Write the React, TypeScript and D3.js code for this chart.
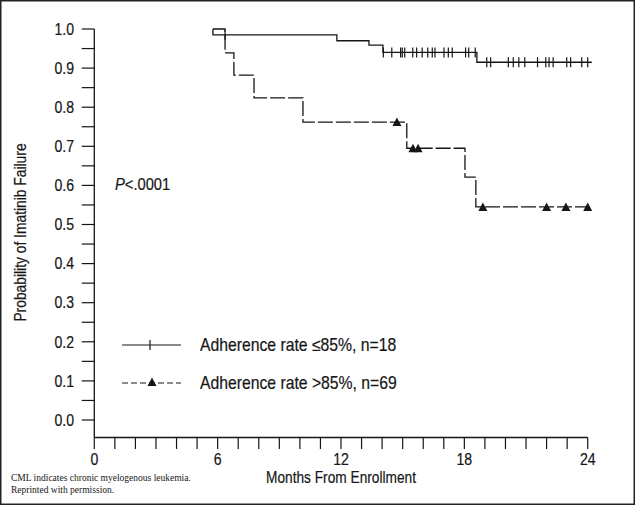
import * as d3 from 'd3';

// months on study / probability
const solidStart = 5.77;
const solidEnd = 24.2;
const solidEventMonths = [5.77, 11.8, 13.36, 14.04, 18.61];
const solidSurvival = [0.985, 0.97, 0.959, 0.94, 0.915];
const solidCensored = [
  6.36, 14.06, 14.47, 14.9, 14.98, 15.1, 15.49, 15.68, 15.95, 16.22, 16.44, 16.57, 17.01,
  17.22, 17.41, 18.06, 18.21, 18.53, 19.09, 19.28, 20.14, 20.38, 20.65, 20.94, 21.56,
  21.96, 22.12, 22.32, 22.98, 23.17, 23.71, 24.0,
];

const dashedStart = 5.77;
const dashedEnd = 24.1;
const dashedEventMonths = [6.36, 6.79, 7.77, 10.15, 15.2, 18.03, 18.56];
const dashedSurvival = [0.939, 0.882, 0.824, 0.762, 0.695, 0.621, 0.545];
const dashedCensored = [14.72, 15.5, 15.75, 18.9, 22.0, 22.94, 24.0];

const xTickLabels = [0, 6, 12, 18, 24];
const yTickLabels = [0, 0.1, 0.2, 0.3, 0.4, 0.5, 0.6, 0.7, 0.8, 0.9, 1.0];

const legendLabels = ['Adherence rate \u226485%, n=18', 'Adherence rate >85%, n=69'];

const W = 635;
const H = 505;
const ink = '#161616';
const sans = "'Liberation Sans', Arial, sans-serif";
const serif = "'Liberation Serif', 'DejaVu Serif', serif";

const x = d3.scaleLinear().domain([0, 24]).range([94.3, 587.7]);
const y = d3.scaleLinear().domain([0, 1]).range([420, 29]);
const axisY = 437.5;
const axisX = 94.3;

function levelAt(times: number[], values: number[], t: number) {
  let v = 1;
  times.forEach((tt, i) => {
    if (tt <= t) v = values[i];
  });
  return v;
}

function stepPoints(start: number, end: number, times: number[], values: number[]) {
  const pts: [number, number][] = [[start, 1]];
  times.forEach((t, i) => pts.push([t, values[i]]));
  pts.push([end, values[values.length - 1]]);
  return pts;
}

const step = d3
  .line<[number, number]>()
  .x((d) => x(d[0]))
  .y((d) => y(d[1]))
  .curve(d3.curveStepAfter);

function triangle(cx: number, cy: number) {
  return `M${cx - 4.5},${cy + 4} L${cx},${cy - 4.5} L${cx + 4.5},${cy + 4} Z`;
}

// condensed sans text (no narrow face installed, so squeeze horizontally)
function CText(props: {
  x: number;
  y: number;
  size: number;
  squeeze: number;
  anchor?: string;
  rotate?: number;
  dy?: string;
  children: any;
}) {
  const { x: tx, y: ty, size, squeeze, anchor, rotate, dy, children } = props;
  return (
    <text
      transform={`translate(${tx},${ty})${rotate ? ` rotate(${rotate})` : ''} scale(${squeeze},1)`}
      textAnchor={anchor || 'start'}
      dy={dy}
      fontFamily={sans}
      fontSize={size}
      fill={ink}
      stroke={ink}
      strokeWidth={0.2}
    >
      {children}
    </text>
  );
}

export default function App() {
  const solidPath = step(stepPoints(solidStart, solidEnd, solidEventMonths, solidSurvival)) || '';
  const dashedPath = step(stepPoints(dashedStart, dashedEnd, dashedEventMonths, dashedSurvival)) || '';
  const yMinor = d3.range(0, 21).map((i) => i * 0.05);
  const xMinor = d3.range(0, 25);

  return (
    <svg
      width={W}
      height={H}
      viewBox={`0 0 ${W} ${H}`}
      style={{ position: 'absolute', left: 0, top: 0, background: '#fff' }}
    >
      <rect x={0.75} y={0.75} width={W - 1.5} height={H - 1.5} fill="#fff" stroke="#222" strokeWidth={1.5} />

      {/* y axis */}
      <line x1={axisX} x2={axisX} y1={y(1)} y2={axisY} stroke={ink} strokeWidth={1.3} />
      {yMinor.map((v) => (
        <line key={v} x1={axisX - 12.6} x2={axisX} y1={y(v)} y2={y(v)} stroke={ink} strokeWidth={1.2} />
      ))}
      {yTickLabels.map((v) => (
        <CText key={v} x={74} y={y(v)} dy="0.36em" anchor="end" size={16} squeeze={0.88}>
          {v.toFixed(1)}
        </CText>
      ))}
      <CText x={26} y={(y(1) + y(0)) / 2 + 8} rotate={-90} anchor="middle" size={16} squeeze={0.865}>
        Probability of Imatinib Failure
      </CText>

      {/* x axis */}
      <line x1={axisX} x2={x(24)} y1={axisY} y2={axisY} stroke={ink} strokeWidth={1.3} />
      {xMinor.map((m) => (
        <line key={m} x1={x(m)} x2={x(m)} y1={axisY} y2={axisY + 11.5} stroke={ink} strokeWidth={1.2} />
      ))}
      {xTickLabels.map((m) => (
        <CText key={m} x={x(m)} y={464.5} anchor="middle" size={16} squeeze={0.88}>
          {m}
        </CText>
      ))}
      <CText x={x(12)} y={483} anchor="middle" size={16.5} squeeze={0.83}>
        Months From Enrollment
      </CText>

      {/* curves */}
      <path d={solidPath} fill="none" stroke={ink} strokeWidth={1.3} />
      {solidCensored.map((t, i) => {
        const cy = y(levelAt(solidEventMonths, solidSurvival, t));
        return <line key={i} x1={x(t)} x2={x(t)} y1={cy - 5} y2={cy + 5} stroke={ink} strokeWidth={1.2} />;
      })}
      <path d={dashedPath} fill="none" stroke={ink} strokeWidth={1.3} strokeDasharray="15,3" />
      {dashedCensored.map((t, i) => (
        <path key={i} d={triangle(x(t), y(levelAt(dashedEventMonths, dashedSurvival, t)))} fill={ink} />
      ))}

      <CText x={115} y={190} size={16} squeeze={0.92}>
        <tspan fontStyle="italic">P</tspan>
        {'<.0001'}
      </CText>

      {/* legend */}
      <line x1={122} x2={181} y1={345} y2={345} stroke={ink} strokeWidth={1.2} />
      <line x1={150} x2={150} y1={340} y2={350} stroke={ink} strokeWidth={1.2} />
      <CText x={200} y={345} dy="0.36em" size={17.5} squeeze={0.9}>
        {legendLabels[0]}
      </CText>
      <line x1={122} x2={181} y1={383} y2={383} stroke={ink} strokeWidth={1.2} strokeDasharray="6,3" />
      <path d={triangle(152, 382)} fill={ink} />
      <CText x={200} y={383} dy="0.36em" size={17.5} squeeze={0.9}>
        {legendLabels[1]}
      </CText>

      {/* footnote */}
      <text x={11} y={481} fontFamily={serif} fontSize={9.5} fill={ink}>
        CML indicates chronic myelogenous leukemia.
      </text>
      <text x={11} y={493} fontFamily={serif} fontSize={9.5} fill={ink}>
        Reprinted with permission.
      </text>
    </svg>
  );
}
